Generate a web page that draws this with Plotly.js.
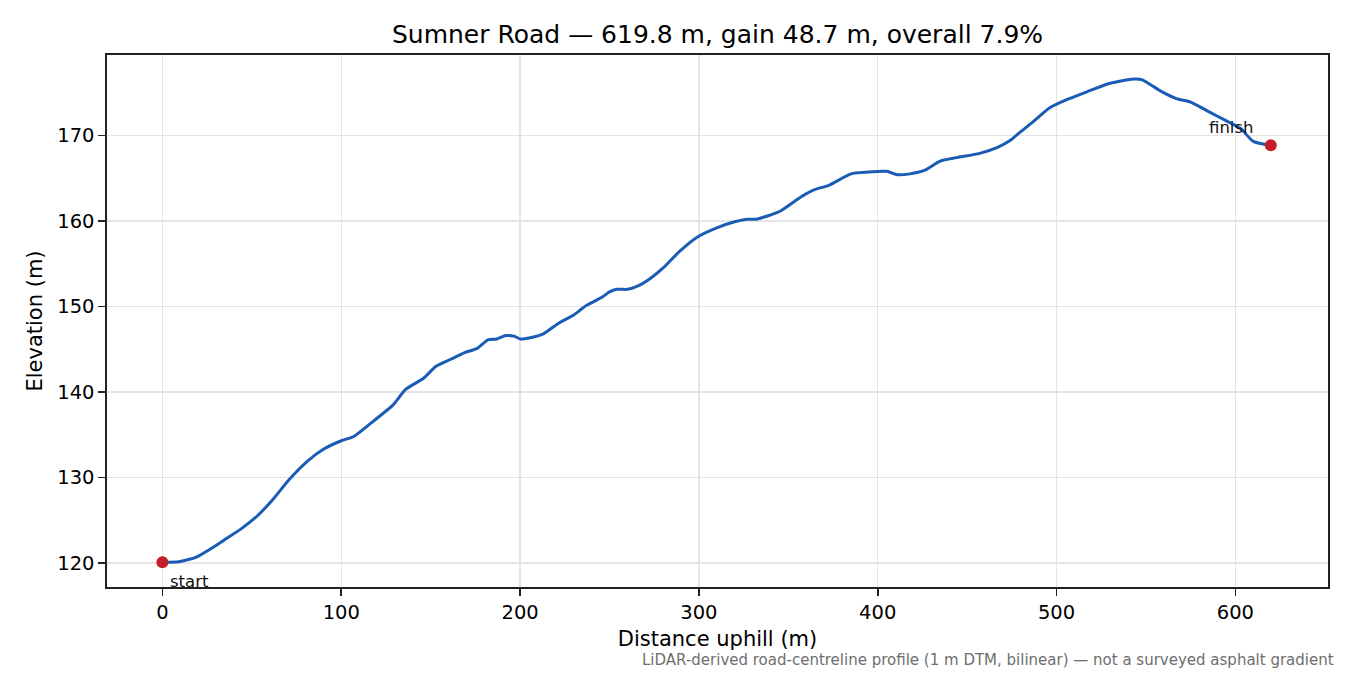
<!DOCTYPE html>
<html>
<head>
<meta charset="utf-8">
<script src="https://cdn.plot.ly/plotly-3.0.1.min.js"></script>
<style>
  html, body { margin: 0; padding: 0; background: #fff; }
  #chart { width: 1350px; height: 675px; }
</style>
</head>
<body>
<div id="chart"></div>
<script>
// Road profile
const distance = [0, 9, 19, 28, 36, 44, 53, 62, 71, 81, 90, 100, 107, 118, 129, 136, 146, 153, 161, 169,
  176, 182, 187, 192, 197, 200, 207, 213, 222, 230, 237, 246, 250, 254, 260, 266, 273, 280, 289, 299,
  310, 320, 327, 332, 345, 357, 364, 373, 385, 394, 405, 411, 418, 426, 435, 444, 457, 467, 474, 478,
  487, 496, 506, 517, 530, 543, 548, 558, 567, 575, 584, 595, 603, 610, 619.8];
const elevation = [120.1, 120.15, 120.7, 121.8, 122.9, 124.0, 125.5, 127.5, 129.8, 131.9, 133.3, 134.3, 134.8, 136.6, 138.5, 140.3, 141.6, 143.0, 143.8, 144.6,
  145.1, 146.1, 146.2, 146.6, 146.5, 146.2, 146.4, 146.8, 148.1, 149.0, 150.1, 151.1, 151.7, 152.0, 152.0, 152.4, 153.3, 154.5, 156.4, 158.1,
  159.2, 159.9, 160.2, 160.2, 161.1, 162.8, 163.6, 164.2, 165.5, 165.7, 165.8, 165.4, 165.5, 165.9, 167.0, 167.4, 167.9, 168.6, 169.4, 170.1,
  171.6, 173.2, 174.2, 175.1, 176.1, 176.6, 176.5, 175.2, 174.3, 173.9, 172.9, 171.7, 170.8, 169.3, 168.85];

const xTicks = [0, 100, 200, 300, 400, 500, 600];
const yTicks = [120, 130, 140, 150, 160, 170];
const endLabels = ['start', 'finish'];

const last = distance.length - 1;
const font = 'DejaVu Sans, sans-serif';

const profile = {
  x: distance, y: elevation,
  type: 'scatter', mode: 'lines',
  line: { color: '#1a5cb5', width: 3, shape: 'spline', smoothing: 0.6 },
  hoverinfo: 'skip', showlegend: false
};

const ends = {
  x: [distance[0], distance[last]],
  y: [elevation[0], elevation[last]],
  type: 'scatter', mode: 'markers',
  marker: { color: '#c41e2a', size: 12 },
  hoverinfo: 'skip', showlegend: false
};

const axisBase = {
  showline: true, mirror: true, linecolor: '#222', linewidth: 1.6,
  ticks: 'outside', ticklen: 7, tickwidth: 1.6, tickcolor: '#222',
  gridcolor: '#e4e4e4', gridwidth: 1.5, zeroline: false,
  tickfont: { family: font, size: 19.5, color: '#000' }
};

const layout = {
  width: 1350, height: 675,
  margin: { l: 107, r: 22, t: 55, b: 88 },
  paper_bgcolor: '#fff', plot_bgcolor: '#fff',
  font: { family: font },
  title: {
    text: 'Sumner Road — 619.8 m, gain 48.7 m, overall 7.9%',
    font: { family: font, size: 25, color: '#000' },
    x: 0.5315, xanchor: 'center', y: 0.95, yanchor: 'middle'
  },
  xaxis: Object.assign({}, axisBase, {
    range: [-31, 651.8], tickvals: xTicks,
    title: { text: 'Distance uphill (m)', font: { family: font, size: 21, color: '#000' }, standoff: 8 }
  }),
  yaxis: Object.assign({}, axisBase, {
    range: [117.2, 179.4], tickvals: yTicks,
    title: { text: 'Elevation (m)', font: { family: font, size: 21, color: '#000' }, standoff: 9 }
  }),
  annotations: [
    {
      x: distance[0], y: elevation[0], text: endLabels[0], showarrow: false,
      xanchor: 'left', yanchor: 'middle', xshift: 6, yshift: -19,
      font: { family: font, size: 16.5, color: '#111' }
    },
    {
      x: distance[last], y: elevation[last], text: endLabels[1], showarrow: false,
      xanchor: 'right', yanchor: 'middle', xshift: -15, yshift: 18,
      font: { family: font, size: 16.5, color: '#111' }
    },
    {
      xref: 'paper', yref: 'paper', x: 1.0065, y: -0.138,
      xanchor: 'right', yanchor: 'middle', showarrow: false,
      text: 'LiDAR-derived road-centreline profile (1 m DTM, bilinear) — not a surveyed asphalt gradient',
      font: { family: font, size: 15, color: '#6e6e6e' }
    }
  ]
};

Plotly.newPlot('chart', [profile, ends], layout, { displayModeBar: false, staticPlot: true });
</script>
</body>
</html>
